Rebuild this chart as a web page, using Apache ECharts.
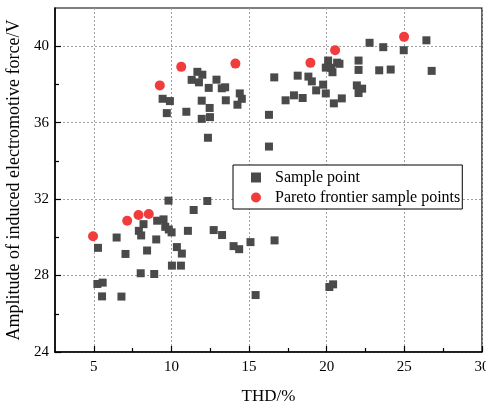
<!DOCTYPE html>
<html>
<head>
<meta charset="utf-8">
<script src="https://cdn.jsdelivr.net/npm/echarts@6/dist/echarts.min.js"></script>
<style>
  html, body { margin: 0; padding: 0; background: #fff; }
  #chart { width: 486px; height: 401px; }
</style>
</head>
<body>
<div id="chart"></div>
<script>
const sampleTHD = [
  11.67, 11.99, 11.30, 11.77, 12.90, 12.40, 13.24, 13.46, 14.40, 14.53, 14.25, 9.43,
  9.90, 11.95, 13.50, 12.46, 9.70, 10.96, 11.95, 12.48, 12.35, 16.62, 16.28, 16.28,
  22.76, 23.64, 24.96, 26.42, 26.76, 20.09, 20.67, 20.82, 19.94, 20.28, 20.37, 22.05,
  22.05, 23.38, 24.12, 18.13, 18.82, 19.04, 19.77, 19.32, 19.94, 17.35, 17.89, 18.45,
  20.46, 20.97, 21.94, 22.28, 22.05,
  9.81, 12.31, 11.43, 8.20, 7.90, 8.05, 9.08, 9.49, 9.60, 9.83, 10.01, 11.06,
  12.72, 13.26, 14.00, 14.36, 15.09, 16.64, 6.47, 5.27, 7.04, 9.02, 8.43, 10.35,
  10.67, 10.03, 10.61, 8.02, 8.89, 5.23, 5.57, 5.53, 6.78, 15.42, 20.17, 20.41
]
const sampleEMF = [
  38.66, 38.51, 38.24, 38.11, 38.25, 37.82, 37.80, 37.85, 37.53, 37.25, 36.94, 37.25,
  37.13, 37.15, 37.17, 36.77, 36.50, 36.57, 36.20, 36.29, 35.21, 38.37, 36.41, 34.75,
  40.18, 39.95, 39.79, 40.31, 38.71, 39.25, 39.14, 39.08, 38.88, 38.87, 38.64, 39.25,
  38.76, 38.74, 38.78, 38.46, 38.41, 38.16, 37.99, 37.69, 37.53, 37.17, 37.43, 37.29,
  37.01, 37.27, 37.95, 37.78, 37.55,
  31.92, 31.90, 31.43, 30.69, 30.34, 30.10, 30.87, 30.94, 30.55, 30.41, 30.26, 30.34,
  30.38, 30.12, 29.54, 29.38, 29.75, 29.84, 29.99, 29.45, 29.13, 29.89, 29.31, 29.49,
  29.15, 28.52, 28.52, 28.12, 28.08, 27.56, 27.63, 26.91, 26.90, 26.98, 27.40, 27.54
]
const paretoTHD = [4.95, 7.15, 7.88, 8.54, 9.25, 10.63, 14.12, 18.95, 20.54, 24.98]
const paretoEMF = [30.06, 30.87, 31.17, 31.22, 37.95, 38.92, 39.09, 39.13, 39.79, 40.49]

const xMajor = [5, 10, 15, 20, 25, 30]
const xMinor = [7.5, 12.5, 17.5, 22.5, 27.5]
const yMajor = [24, 28, 32, 36, 40]
const yMinor = [26, 30, 34, 38]

const font = 'Liberation Serif'
const zip = (xs, ys) => xs.map((x, i) => [x, ys[i]])

const mainAxis = (min, max, ticks, margin) => ({
  type: 'value',
  min: min,
  max: max,
  axisLine: {show: true, onZero: false, lineStyle: {color: '#000', width: 1.5}},
  axisTick: {show: true, inside: true, length: 6, customValues: ticks, lineStyle: {color: '#000', width: 1.2}},
  axisLabel: {customValues: ticks, color: '#000', fontFamily: font, fontSize: 15, margin: margin},
  splitLine: {show: true, lineStyle: {color: '#a0a0a0', type: [2, 2], width: 1}},
})

const minorAxis = (min, max, ticks) => ({
  type: 'value',
  min: min,
  max: max,
  axisLine: {show: false},
  axisTick: {show: true, inside: true, length: 4, customValues: ticks, lineStyle: {color: '#000', width: 1.2}},
  axisLabel: {show: false},
  splitLine: {show: false},
})

const chart = echarts.init(document.getElementById('chart'))

chart.setOption({
  animation: false,
  grid: {
    left: 55, right: 4, top: 8, bottom: 49,
    outerBoundsMode: 'none',
    show: true, borderColor: '#000', borderWidth: 1.2,
  },
  legend: {
    orient: 'vertical',
    left: 233,
    top: 165,
    padding: [4, 2, 3, 18],
    itemGap: 3,
    itemWidth: 28,
    itemHeight: 10,
    backgroundColor: '#fff',
    borderColor: '#000',
    borderWidth: 1,
    borderRadius: 0,
    textStyle: {color: '#000', fontFamily: font, fontSize: 16, lineHeight: 17},
    data: [
      {name: 'Sample point', icon: 'path://M0,0L10,0L10,10L0,10Z'},
      {name: 'Pareto frontier sample points', icon: 'circle'},
    ],
  },
  xAxis: [
    Object.assign(mainAxis(2.5, 30, xMajor, 8), {
      position: 'bottom',
      name: 'THD/%',
      nameLocation: 'middle',
      nameGap: 36,
      nameTextStyle: {color: '#000', fontFamily: font, fontSize: 17},
    }),
    Object.assign(minorAxis(2.5, 30, xMinor), {position: 'bottom'}),
  ],
  yAxis: [
    Object.assign(mainAxis(24, 42, yMajor, 6), {
      position: 'left',
      name: 'Amplitude of induced electromotive force/V',
      nameLocation: 'middle',
      nameGap: 22,
      nameTextStyle: {color: '#000', fontFamily: font, fontSize: 18},
    }),
    Object.assign(minorAxis(24, 42, yMinor), {position: 'left'}),
  ],
  series: [
    {
      name: 'Sample point',
      type: 'scatter',
      symbol: 'rect',
      symbolSize: 8,
      itemStyle: {color: '#4a4a4a', opacity: 1},
      data: zip(sampleTHD, sampleEMF),
    },
    {
      name: 'Pareto frontier sample points',
      type: 'scatter',
      symbol: 'circle',
      symbolSize: 10,
      itemStyle: {color: '#f03c3c', opacity: 1},
      data: zip(paretoTHD, paretoEMF),
    },
  ],
})

window.addEventListener('resize', () => chart.resize())
</script>
</body>
</html>
